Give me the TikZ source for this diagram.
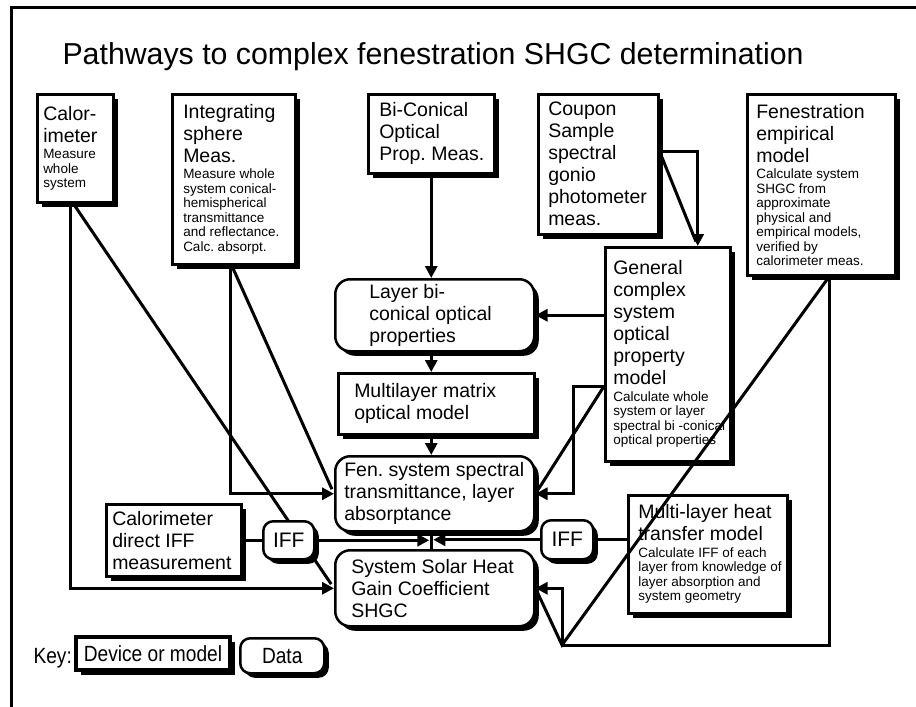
\documentclass[tikz,border=0pt]{standalone}
\usepackage{fontspec}
\setmainfont{Liberation Sans}
\newfontfamily\keyfont[FakeStretch=0.87]{Liberation Sans}
\usetikzlibrary{arrows.meta}
\usetikzlibrary{shadows}
\usetikzlibrary{backgrounds}
\frenchspacing

\newcommand{\bigtxt}{\fontsize{19.5}{22}\selectfont}
\newcommand{\smalltxt}{\fontsize{13.5}{14.5}\selectfont}
\newcommand{\titletxt}{\fontsize{30.3}{34}\selectfont}
\newcommand{\ifftxt}{\fontsize{21}{24}\selectfont}
\newcommand{\keytxt}{\keyfont\fontsize{22}{24}\selectfont}
% font's own word spaces; lines may run a little past the text width instead of breaking
\newcommand{\fitlines}{\spaceskip=0pt\xspaceskip=0pt\rightskip=-40pt plus 1fil\relax}
\newcommand{\smallpart}{\par\vskip2pt\smalltxt}

\begin{document}
\begin{tikzpicture}[x=1pt,y=-1pt,>={Triangle[length=12pt,width=12pt]},
        link/.style={line width=3pt},
        device/.style={draw,fill=white,line width=2.5pt,inner sep=0pt,align=left,anchor=north west,font=\bigtxt,
          general shadow={fill=black,shadow xshift=4.5pt,shadow yshift=-4.5pt}},
        data/.style={device,rounded corners=15pt}]

        \useasboundingbox (0,0) rectangle (916,707);
        \draw [link] (11.5,707) -- (11.5,7) -- (916,7);

        \node [anchor=base west,font=\titletxt] (title) at (59,64)
          {Pathways to complex fenestration SHGC determination};

        % devices and models
        \node [device,minimum width=76pt,minimum height=108pt,text width=64pt] (cal) at (36,93)
          {\fitlines Calor-\\imeter\smallpart Measure\\whole\\system\par};
        \node [device,minimum width=123pt,minimum height=170pt,text width=101pt] (integ) at (171,93)
          {\fitlines Integrating\\sphere\\Meas.\smallpart Measure whole\\system conical-\\hemispherical\\transmittance\\and reflectance.\\Calc. absorpt.\par};
        \node [device,minimum width=126pt,minimum height=79pt,text width=104pt] (bicon) at (367,93)
          {\fitlines Bi-Conical\\Optical\\Prop. Meas.\par};
        \node [device,minimum width=120pt,minimum height=140pt,text width=100pt] (coupon) at (537,93)
          {\fitlines Coupon\\Sample\\spectral\\gonio\\photometer\\meas.\par};
        \node [device,minimum width=148pt,minimum height=181pt,text width=130pt] (fenemp) at (746,93)
          {\fitlines Fenestration\\empirical\\model\smallpart Calculate system\\SHGC from\\approximate\\physical and\\empirical models,\\verified by\\calorimeter meas.\par};
        \node [device,minimum width=125pt,minimum height=214pt,text width=109pt] (general) at (604,246)
          {\fitlines General\\complex\\system\\optical\\property\\model\smallpart Calculate whole\\system or layer\\spectral bi -conical\\optical properties\par};
        \node [device,minimum width=196pt,minimum height=61pt,text width=164pt] (matrix) at (337,372)
          {\fitlines Multilayer matrix\\optical model\par};
        \node [device,minimum width=135pt,minimum height=72pt,text width=123pt] (caldirect) at (105,503)
          {\fitlines Calorimeter\\direct IFF\\measurement\par};
        \node [device,minimum width=159pt,minimum height=118pt,text width=139pt] (heat) at (627,494)
          {\fitlines Multi-layer heat\\transfer model\smallpart Calculate IFF of each\\layer from knowledge of\\layer absorption and\\system geometry\par};

        % data
        \node [data,minimum width=199pt,minimum height=72pt,text width=131pt] (layer) at (334,278)
          {\fitlines Layer bi-\\conical optical\\properties\par};
        \node [data,minimum width=199pt,minimum height=75pt,text width=181pt] (fen) at (334,455)
          {\fitlines Fen. system spectral\\transmittance, layer\\absorptance\par};
        \node [data,minimum width=199pt,minimum height=76pt,text width=167pt] (shgc) at (334,549)
          {\fitlines System Solar Heat\\Gain Coefficient\\SHGC\par};
        \node [data,rounded corners=10pt,align=center,font=\ifftxt,minimum width=51pt,minimum height=38pt] (iffl) at (262,520) {IFF};
        \node [data,rounded corners=10pt,align=center,font=\ifftxt,minimum width=52pt,minimum height=39pt] (iffr) at (540,519) {IFF};

        % key
        \node [anchor=base west,font=\keytxt] (key) at (30,663) {Key:};
        \node [device,line width=4pt,align=center,font=\keytxt,minimum width=154pt,minimum height=33pt] (keydev) at (74,635) {Device or model};
        \node [data,rounded corners=10pt,align=center,font=\keytxt,minimum width=84pt,minimum height=35pt] (keydata) at (239,637) {Data};

        \begin{pgfonlayer}{background}
          \begin{scope}[link]
            \draw [->] ([xshift=-5pt]cal.south) |- (shgc.west);
            \draw [shorten >=5pt] ([xshift=-2pt]cal.south) -- (shgc.west);
            \draw [->] ([xshift=-3pt]integ.south) |- (fen.west);
            \draw [shorten >=5pt] ([xshift=-2pt]integ.south) -- (fen.west);
            \draw [->] (bicon.south) -- (bicon.south |- layer.north);
            \draw [->] (layer.south -| bicon.south) -- (matrix.north -| bicon.south);
            \draw [->] (matrix.south -| bicon.south) -- (fen.north -| bicon.south);
            \draw (fen.south -| bicon.south) -- (shgc.north -| bicon.south);
            \draw [->] ([yshift=13pt]coupon.east) -| ([xshift=30pt]general.north);
            \draw [shorten >=5pt] ([yshift=13pt]coupon.east) -- ([xshift=30pt]general.north);
            \draw [->] (general.west |- layer.east) -- (layer.east);
            \draw [->] ([yshift=-32pt]general.west) -- ++(-31,0) |- (fen.east);
            \draw [shorten >=5pt] ([yshift=-32pt]general.west) -- (fen.east);
            \draw (caldirect.east |- iffl.west) -- (iffl.west);
            \draw [->,shorten >=2pt] (iffl.east) -- (iffl.east -| bicon.south);
            \draw [->,shorten >=2pt] (iffr.west) -- (iffr.west -| bicon.south);
            \draw (iffr.east) -- (iffr.east -| heat.west);
          \end{scope}
        \end{pgfonlayer}

        % empirical model path runs over the boxes
        \coordinate (bend) at (562,645);
        \draw [link,->] ([xshift=8pt]fenemp.south) |- (bend) |- (shgc.east);
        \draw [link,shorten >=5pt] ([xshift=8pt]fenemp.south) -- (bend) -- (shgc.east);
\end{tikzpicture}
\end{document}
